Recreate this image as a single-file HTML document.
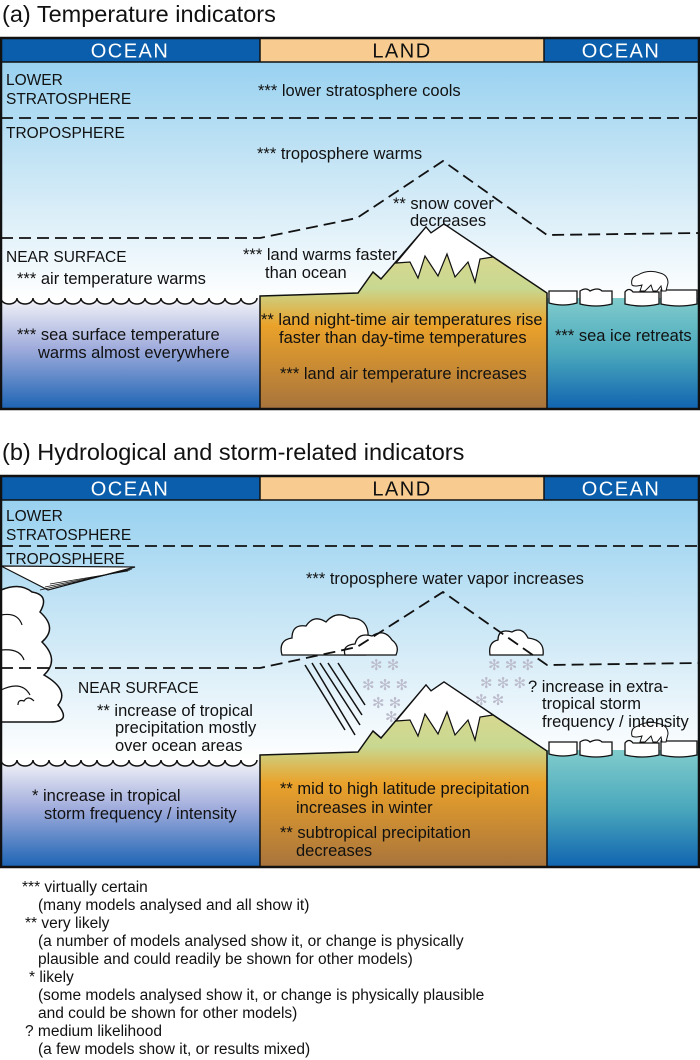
<!DOCTYPE html>
<html><head><meta charset="utf-8"><style>
html,body{margin:0;padding:0;background:#fff;}
svg{display:block;}
text{font-family:"Liberation Sans",Arial,sans-serif;fill:#111;}
.l{font-size:16.5px;}
.h{font-size:20px;letter-spacing:1.5px;}
.t{font-size:23.5px;}
.g{font-size:15.5px;}
</style></head><body>
<svg width="700" height="1060" viewBox="0 0 700 1060" xmlns="http://www.w3.org/2000/svg">
<defs>
<linearGradient id="skyA" x1="0" y1="38" x2="0" y2="300" gradientUnits="userSpaceOnUse">
<stop offset="0" stop-color="#8ecdef"/><stop offset="0.55" stop-color="#cde8f6"/><stop offset="1" stop-color="#ffffff"/></linearGradient>
<linearGradient id="skyB" x1="0" y1="476" x2="0" y2="760" gradientUnits="userSpaceOnUse">
<stop offset="0" stop-color="#8ecdef"/><stop offset="0.55" stop-color="#cde8f6"/><stop offset="1" stop-color="#ffffff"/></linearGradient>
<linearGradient id="oceanL" x1="0" y1="0" x2="0" y2="1">
<stop offset="0" stop-color="#f4f4f8"/><stop offset="0.45" stop-color="#a0acdc"/><stop offset="1" stop-color="#1c64b4"/></linearGradient>
<linearGradient id="oceanR" x1="0" y1="0" x2="0" y2="1">
<stop offset="0" stop-color="#80cccc"/><stop offset="0.5" stop-color="#4aa8bc"/><stop offset="1" stop-color="#1064b0"/></linearGradient>
<linearGradient id="landA" x1="0" y1="224" x2="0" y2="408" gradientUnits="userSpaceOnUse">
<stop offset="0" stop-color="#e8d890"/><stop offset="0.35" stop-color="#c8d890"/><stop offset="0.55" stop-color="#eaa22a"/><stop offset="1" stop-color="#a8743c"/></linearGradient>
<linearGradient id="landB" x1="0" y1="682" x2="0" y2="866" gradientUnits="userSpaceOnUse">
<stop offset="0" stop-color="#e8d890"/><stop offset="0.35" stop-color="#c8d890"/><stop offset="0.55" stop-color="#eaa22a"/><stop offset="1" stop-color="#a8743c"/></linearGradient>
</defs>

<!-- ========== PANEL A ========== -->
<text class="t" x="2" y="22">(a)  Temperature indicators</text>
<rect x="1" y="38" width="698" height="371" fill="url(#skyA)"/>
<rect x="1" y="298" width="259" height="111" fill="url(#oceanL)"/>
<path d="M1,298 a8,6 0 0 0 16,0 a8,6 0 0 0 16,0 a8,6 0 0 0 16,0 a8,6 0 0 0 16,0 a8,6 0 0 0 16,0 a8,6 0 0 0 16,0 a8,6 0 0 0 16,0 a8,6 0 0 0 16,0 a8,6 0 0 0 16,0 a8,6 0 0 0 16,0 a8,6 0 0 0 16,0 a8,6 0 0 0 16,0 a8,6 0 0 0 16,0 a8,6 0 0 0 16,0 a8,6 0 0 0 16,0 a8,6 0 0 0 16,0" fill="#fff" stroke="#111" stroke-width="1.5"/>
<rect x="547" y="298" width="152" height="111" fill="url(#oceanR)"/>
<g fill="#fff" stroke="#111" stroke-width="1.3">
<path d="M549,291 h28 v12 q-14,4 -28,0z"/><path d="M580,291 q6,-4 10,0 q8,-4 12,0 h10 v13 q-16,4 -32,0z"/>
<path d="M625,292 q4,-5 8,0 h26 v12 q-17,4 -34,0z"/><path d="M661,290 h36 v14 q-18,4 -36,0z"/></g>
<path d="M632,285 q-2,-8 6,-10 q10,-6 22,-2 q8,2 8,10 l-2,8 h-4 l-1,-5 -4,5 h-4 l-2,-6 -6,6 h-5 l2,-6 q-8,2 -10,0z" fill="#fff" stroke="#111" stroke-width="1"/>
<path d="M260,296 L358,293 L373,272 L381,279 L426,227 L431,233 L444,224 L547,293 L547,409 L260,409 Z" fill="url(#landA)" stroke="#111" stroke-width="1.5"/>
<path d="M426,227 L431,233 L444,224 L493,257 L480,259 L475,282 L468,262 L455,277 L447,254 L438,276 L425,256 L418,278 L410,262 L396,263 Z" fill="#fff" stroke="#111" stroke-width="1.2"/>
<g fill="none" stroke="#111" stroke-width="1.8" stroke-dasharray="12,6">
<line x1="1" y1="118" x2="699" y2="118"/>
<path d="M1,238 L260,238 L357,218 L443,161 L547,235 L699,233"/></g>
<rect x="1" y="38" width="259" height="24" fill="#0a5eab"/>
<rect x="260" y="38" width="284" height="24" fill="#f8cc90"/>
<rect x="544" y="38" width="155" height="24" fill="#0a5eab"/>
<g stroke="#111" stroke-width="1.5"><line x1="1" y1="62" x2="699" y2="62"/><line x1="260" y1="38" x2="260" y2="62"/><line x1="544" y1="38" x2="544" y2="62"/></g>
<text class="h" x="130" y="57.5" text-anchor="middle" style="fill:#fff">OCEAN</text>
<text class="h" x="402" y="57.5" text-anchor="middle">LAND</text>
<text class="h" x="621" y="57.5" text-anchor="middle" style="fill:#fff">OCEAN</text>
<rect x="1" y="38" width="698" height="371" fill="none" stroke="#111" stroke-width="2.5"/>
<text class="g" x="6" y="85">LOWER</text><text class="g" x="6" y="104">STRATOSPHERE</text>
<text class="l" x="258" y="96">*** lower stratosphere cools</text>
<text class="g" x="6" y="138">TROPOSPHERE</text>
<text class="l" x="257" y="159">*** troposphere warms</text>
<text class="l" x="393" y="209">** snow cover</text><text class="l" x="410" y="226">decreases</text>
<text class="g" x="6" y="262">NEAR SURFACE</text>
<text class="l" x="17" y="284">*** air temperature warms</text>
<text class="l" x="243" y="260">*** land warms faster</text><text class="l" x="265" y="278">than ocean</text>
<text class="l" x="261" y="325">** land night-time air temperatures rise</text>
<text class="l" x="279" y="343">faster than day-time temperatures</text>
<text class="l" x="280" y="379">*** land air temperature increases</text>
<text class="l" x="17" y="340">*** sea surface temperature</text><text class="l" x="38" y="358">warms almost everywhere</text>
<text class="l" x="555" y="341">*** sea ice retreats</text>

<!-- ========== PANEL B ========== -->
<text class="t" x="2" y="460">(b)  Hydrological and storm-related indicators</text>
<rect x="1" y="476" width="698" height="391" fill="url(#skyB)"/>
<rect x="1" y="760" width="259" height="107" fill="url(#oceanL)"/>
<path d="M1,760 a8,6 0 0 0 16,0 a8,6 0 0 0 16,0 a8,6 0 0 0 16,0 a8,6 0 0 0 16,0 a8,6 0 0 0 16,0 a8,6 0 0 0 16,0 a8,6 0 0 0 16,0 a8,6 0 0 0 16,0 a8,6 0 0 0 16,0 a8,6 0 0 0 16,0 a8,6 0 0 0 16,0 a8,6 0 0 0 16,0 a8,6 0 0 0 16,0 a8,6 0 0 0 16,0 a8,6 0 0 0 16,0 a8,6 0 0 0 16,0" fill="#fff" stroke="#111" stroke-width="1.5"/>
<rect x="547" y="750" width="152" height="117" fill="url(#oceanR)"/>
<g fill="#fff" stroke="#111" stroke-width="1.3">
<path d="M549,742 h28 v12 q-14,4 -28,0z"/><path d="M580,742 q6,-4 10,0 q8,-4 12,0 h10 v13 q-16,4 -32,0z"/>
<path d="M625,743 q4,-5 8,0 h26 v12 q-17,4 -34,0z"/><path d="M661,741 h36 v14 q-18,4 -36,0z"/></g>
<path d="M632,736 q-2,-8 6,-10 q10,-6 22,-2 q8,2 8,10 l-2,8 h-4 l-1,-5 -4,5 h-4 l-2,-6 -6,6 h-5 l2,-6 q-8,2 -10,0z" fill="#fff" stroke="#111" stroke-width="1"/>
<path d="M260,755 L358,752 L373,731 L381,738 L426,685 L431,691 L444,682 L547,751 L547,867 L260,867 Z" fill="url(#landB)" stroke="#111" stroke-width="1.5"/>
<path d="M426,685 L431,691 L444,682 L493,715 L480,717 L475,740 L468,720 L455,735 L447,712 L438,734 L425,714 L418,736 L410,720 L396,721 Z" fill="#fff" stroke="#111" stroke-width="1.2"/>
<path d="M1,566 L135,567 L48,590 Z" fill="#fff" stroke="#111" stroke-width="1.2"/>
<g stroke="#111" stroke-width="0.8"><line x1="40" y1="590" x2="132" y2="569"/><line x1="45" y1="587" x2="130" y2="570"/><line x1="50" y1="584" x2="128" y2="571"/></g>
<path d="M1,590 Q20,582 32,592 Q50,595 40,612 Q58,628 42,642 Q60,660 44,675 Q70,690 58,705 Q72,722 50,722 L1,722 Z" fill="#fff" stroke="#111" stroke-width="1.5"/>
<path d="M1,615 Q18,612 22,625 M1,650 Q20,648 24,660 M1,690 Q22,680 30,695" fill="none" stroke="#111" stroke-width="1.2"/>
<path d="M18,705 q0,-6 6,-4 q4,-6 10,0" fill="none" stroke="#111" stroke-width="1.2"/>
<g stroke="#111" stroke-width="1.5"><line x1="305" y1="665" x2="345" y2="730"/><line x1="312" y1="663" x2="355" y2="735"/><line x1="320" y1="663" x2="360" y2="725"/><line x1="328" y1="663" x2="362" y2="715"/><line x1="338" y1="663" x2="365" y2="705"/></g>
<g style="font-size:15px">
<text x="370" y="670" style="fill:#bbc">✻ ✻</text>
<text x="362" y="690" style="fill:#bbc">✻ ✻ ✻</text>
<text x="372" y="708" style="fill:#bbc">✻ ✻</text>
<text x="385" y="722" style="fill:#bbc">✻</text>
<text x="488" y="670" style="fill:#bbc">✻ ✻ ✻</text>
<text x="480" y="688" style="fill:#bbc">✻ ✻ ✻</text>
<text x="475" y="705" style="fill:#bbc">✻ ✻</text></g>
<path d="M282,655 Q278,640 292,638 Q292,624 306,626 Q314,614 326,622 Q336,610 350,618 Q370,618 368,640 Q374,650 366,655 Z" fill="#fff" stroke="#111" stroke-width="1.3"/>
<path d="M345,655 Q342,645 355,644 Q358,632 372,636 Q384,628 392,640 Q400,646 396,655 Z" fill="#fff" stroke="#111" stroke-width="1.3"/>
<path d="M490,655 Q488,642 498,640 Q498,628 512,632 Q522,626 528,638 Q545,640 543,655 Z" fill="#fff" stroke="#111" stroke-width="1.3"/>
<g fill="none" stroke="#111" stroke-width="1.8" stroke-dasharray="12,6">
<line x1="1" y1="546" x2="699" y2="546"/>
<path d="M1,668 L260,668 L357,647 L443,592 L547,665 L699,663"/></g>
<rect x="1" y="476" width="259" height="24" fill="#0a5eab"/>
<rect x="260" y="476" width="284" height="24" fill="#f8cc90"/>
<rect x="544" y="476" width="155" height="24" fill="#0a5eab"/>
<g stroke="#111" stroke-width="1.5"><line x1="1" y1="500" x2="699" y2="500"/><line x1="260" y1="476" x2="260" y2="500"/><line x1="544" y1="476" x2="544" y2="500"/></g>
<text class="h" x="130" y="495.5" text-anchor="middle" style="fill:#fff">OCEAN</text>
<text class="h" x="402" y="495.5" text-anchor="middle">LAND</text>
<text class="h" x="621" y="495.5" text-anchor="middle" style="fill:#fff">OCEAN</text>
<rect x="1" y="476" width="698" height="391" fill="none" stroke="#111" stroke-width="2.5"/>
<text class="g" x="6" y="521">LOWER</text><text class="g" x="6" y="540">STRATOSPHERE</text>
<text class="g" x="6" y="564">TROPOSPHERE</text>
<text class="l" x="306" y="584">*** troposphere water vapor increases</text>
<text class="g" x="78" y="693">NEAR SURFACE</text>
<text class="l" x="97" y="716">** increase of tropical</text>
<text class="l" x="115" y="733">precipitation mostly</text>
<text class="l" x="115" y="751">over ocean areas</text>
<text class="l" x="528" y="692">? increase in extra-</text>
<text class="l" x="542" y="709">tropical storm</text>
<text class="l" x="542" y="727">frequency / intensity</text>
<text class="l" x="32" y="801">* increase in tropical</text>
<text class="l" x="44" y="819">storm frequency / intensity</text>
<text class="l" x="280" y="794">** mid to high latitude precipitation</text>
<text class="l" x="296" y="813">increases in winter</text>
<text class="l" x="280" y="838">** subtropical precipitation</text>
<text class="l" x="296" y="856">decreases</text>

<g style="font-size:15.5px">
<text x="22" y="892">***  virtually certain</text>
<text x="38" y="910">(many models analysed and all show it)</text>
<text x="25" y="928">**   very likely</text>
<text x="38" y="946">(a number of models analysed show it, or change is physically</text>
<text x="38" y="964">plausible and could readily be shown for other models)</text>
<text x="29" y="982">*    likely</text>
<text x="38" y="1000">(some models analysed show it, or change is physically plausible</text>
<text x="38" y="1018">and could be shown for other models)</text>
<text x="25" y="1036">?    medium likelihood</text>
<text x="38" y="1054">(a few models show it, or results mixed)</text>
</g>
</svg>
</body></html>
